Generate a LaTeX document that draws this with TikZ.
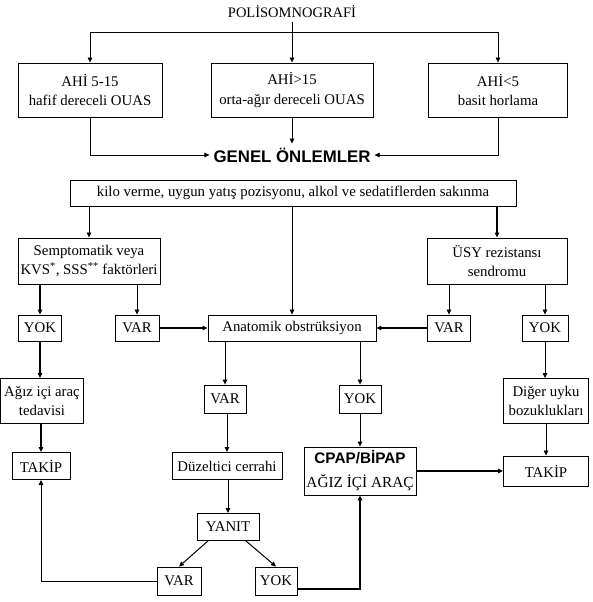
\documentclass[tikz,border=0pt]{standalone}
\usepackage{fontspec}
\setmainfont{Liberation Serif}
\newfontfamily\boldsans{Liberation Sans}
\usetikzlibrary{arrows.meta}
\begin{document}
\begin{tikzpicture}[x=1pt,y=-1pt,
  box/.style={draw, line width=0.9pt, inner sep=1pt, align=center, font=\fontsize{14.8}{19.5}\selectfont},
  conn/.style={line width=0.7pt},
  tconn/.style={line width=1.6pt},
  arr/.style={conn, -{Triangle[length=5pt,width=4.5pt]}},
  tarr/.style={tconn, -{Triangle[length=5pt,width=4.5pt]}},
  ]
\useasboundingbox[fill=white] (0,0) rectangle (593,602);

% top
\node[font=\fontsize{14.5}{16}\selectfont] (title) at (292,12) {POLİSOMNOGRAFİ};
\node[box, minimum width=144pt, minimum height=54pt] (b1) at (90,90) {AHİ 5-15\\hafif dereceli OUAS};
\node[box, minimum width=162pt, minimum height=54pt] (b2) at (292,90) {AHİ>15\\orta-ağır dereceli OUAS};
\node[box, minimum width=139pt, minimum height=54pt] (b3) at (498,90) {AHİ<5\\basit horlama};
\coordinate (tj) at (292,32);
\draw[conn] (title.south) -- (tj);
\draw[arr] (tj) -| (b1.north);
\draw[arr] (tj) -| (b3.north);
\draw[arr] (tj) -- (b2.north);

\node[font=\boldsans\bfseries\fontsize{16.8}{18}\selectfont, inner sep=4pt] (gen) at (292,155) {GENEL ÖNLEMLER};
\draw[arr] (b1.south) |- (gen.west);
\draw[arr] (b2.south) -- (gen.north);
\draw[arr] (b3.south) |- (gen.east);

\node[box, minimum width=446pt, minimum height=26pt] (kilo) at (293,193) {kilo verme, uygun yatış pozisyonu, alkol ve sedatiflerden sakınma};

\node[box, minimum width=142pt, minimum height=46pt] (s1) at (89,261) {Semptomatik veya\\KVS\textsuperscript{*}, SSS\textsuperscript{**} faktörleri};
\node[box, minimum width=140pt, minimum height=46pt] (s2) at (497,261) {ÜSY rezistansı\\sendromu};
\draw[arr] (kilo.south -| s1.north) -- (s1.north);
\draw[tarr] (kilo.south -| s2.north) -- (s2.north);

% row 2
\node[box, minimum width=43pt, minimum height=26pt] (y1) at (40,328) {YOK};
\node[box, minimum width=44pt, minimum height=26pt] (v1) at (137,328) {VAR};
\node[box, minimum width=168pt, minimum height=26pt] (anat) at (292,328) {Anatomik obstrüksiyon};
\node[box, minimum width=43pt, minimum height=26pt] (v2) at (449,328) {VAR};
\node[box, minimum width=46pt, minimum height=26pt] (y2) at (545,328) {YOK};
\draw[arr] (kilo.south -| anat.north) -- (anat.north);
\draw[tarr] (s1.south -| y1.north) -- (y1.north);
\draw[arr] (s1.south -| v1.north) -- (v1.north);
\draw[arr] (s2.south -| v2.north) -- (v2.north);
\draw[arr] (s2.south -| y2.north) -- (y2.north);
\draw[tarr] (v1) -- (anat);
\draw[tarr] (v2) -- (anat);

% row 3
\node[box, minimum width=83pt, minimum height=45pt] (ag) at (42,401) {Ağız içi araç\\tedavisi};
\node[box, minimum width=42pt, minimum height=28pt] (vm) at (225,399) {VAR};
\node[box, minimum width=42pt, minimum height=28pt] (ym) at (360,399) {YOK};
\node[box, minimum width=85pt, minimum height=45pt] (dig) at (546,401) {Diğer uyku\\bozuklukları};
\draw[arr] (anat.south -| vm.north) -- (vm.north);
\draw[arr] (anat.south -| ym.north) -- (ym.north);
\draw[tarr] (y1.south) -- (y1.south |- ag.north);
\draw[arr] (y2.south) -- (y2.south |- dig.north);

% row 4
\node[box, minimum width=58pt, minimum height=27pt] (tl) at (41,466) {TAKİP};
\node[box, minimum width=110pt, minimum height=27pt] (dz) at (227,466) {Düzeltici cerrahi};
\node[box, minimum width=112pt, minimum height=48pt, font=\fontsize{15.3}{24}\selectfont] (cp) at (360,471) {{\boldsans\bfseries\fontsize{15.3}{24}\selectfont CPAP/BİPAP}\\AĞIZ İÇİ ARAÇ};
\node[box, minimum width=85pt, minimum height=30pt] (tr) at (546,471) {TAKİP};
\draw[tarr] (ag.south -| tl.north) -- (tl.north);
\draw[arr] (vm.south -| dz.north) -- (dz.north);
\draw[arr] (ym.south) -- (ym.south |- cp.north);
\draw[arr] (dig.south) -- (dig.south |- tr.north);
\draw[tarr] (cp.east |- tr.west) -- (tr.west);

% bottom
\node[box, minimum width=62pt, minimum height=27pt] (yn) at (228,527) {YANIT};
\node[box, minimum width=44pt, minimum height=28pt] (vb) at (179,581) {VAR};
\node[box, minimum width=42pt, minimum height=28pt] (yb) at (276,581) {YOK};
\draw[arr] (dz.south -| yn.north) -- (yn.north);
\draw[arr, line width=1pt] ([xshift=-20pt]yn.south) -- (vb.north);
\draw[arr, line width=1pt] ([xshift=18pt]yn.south) -- (yb.north);
\draw[arr, line width=1pt] (vb.west) -| (tl.south);
\draw[tarr] ([yshift=-8pt]yb.east) -| (cp.south);
\end{tikzpicture}
\end{document}
